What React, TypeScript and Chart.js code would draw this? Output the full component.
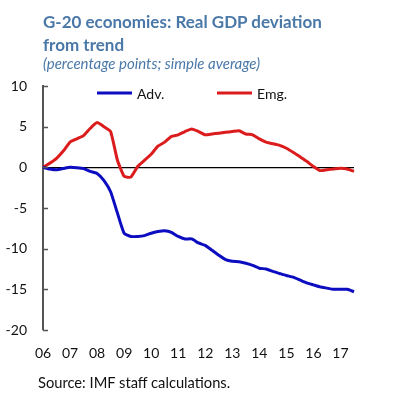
import React, { useEffect, useRef } from "react";
import { Chart, registerables } from "chart.js";

Chart.register(...registerables);

const years = ["06", "07", "08", "09", "10", "11", "12", "13", "14", "15", "16", "17"];
const quarterNames = ["Q1", "Q2", "Q3", "Q4"];
const quarters = years.flatMap((y) => quarterNames.map((q) => `${y}${q}`)).slice(0, 47);

const advValues = [
  0, -0.2, -0.3, -0.15, 0, -0.05, -0.15, -0.5, -0.75, -1.6, -3.0, -5.6,
  -8.1, -8.5, -8.5, -8.4, -8.1, -7.9, -7.8, -8.0, -8.5, -8.8, -8.8, -9.3,
  -9.6, -10.2, -10.8, -11.35, -11.55, -11.6, -11.8, -12.05, -12.4, -12.5, -12.8, -13.05,
  -13.3, -13.5, -13.85, -14.2, -14.45, -14.7, -14.85, -15.0, -15.0, -15.0, -15.3,
];

const emgValues = [
  0, 0.5, 1.1, 2.0, 3.1, 3.5, 3.9, 4.8, 5.5, 5.0, 4.4, 0.9,
  -1.1, -1.2, 0.1, 0.85, 1.6, 2.6, 3.1, 3.8, 4.0, 4.4, 4.7, 4.4,
  4.0, 4.1, 4.2, 4.3, 4.4, 4.5, 4.1, 4.0, 3.5, 3.1, 2.9, 2.7,
  2.35, 1.85, 1.3, 0.75, 0.1, -0.4, -0.3, -0.2, -0.1, -0.2, -0.5,
];

const yTicks = [10, 5, 0, -5, -10, -15, -20];

const seriesNames = ["Adv.", "Emg."];
const seriesColors = ["#0c0cc0", "#dc1c1c"];

const TICK_FONT = "Lato, 'Open Sans', sans-serif";

const insideTicks = {
  id: "insideTicks",
  afterDraw(chart: any) {
    const ctx = chart.ctx;
    const y = chart.scales.y;
    const left = chart.chartArea.left;
    ctx.save();
    ctx.strokeStyle = "#555";
    ctx.lineWidth = 1.5;
    yTicks.forEach((v) => {
      const py = Math.round(y.getPixelForValue(v)) + 0.5;
      ctx.beginPath();
      ctx.moveTo(left, py);
      ctx.lineTo(left + 5, py);
      ctx.stroke();
    });
    ctx.restore();
  },
};

const innerLegend = {
  id: "innerLegend",
  afterDraw(chart: any) {
    const ctx = chart.ctx;
    const { left, top } = chart.chartArea;
    const spots = [54, 174];
    ctx.save();
    ctx.font = `14px ${TICK_FONT}`;
    ctx.textBaseline = "middle";
    chart.data.datasets.forEach((ds: any, i: number) => {
      const x0 = left + spots[i];
      const yy = top + 7;
      ctx.strokeStyle = ds.borderColor;
      ctx.lineWidth = 3;
      ctx.beginPath();
      ctx.moveTo(x0, yy);
      ctx.lineTo(x0 + 35, yy);
      ctx.stroke();
      ctx.fillStyle = "#111";
      ctx.fillText(ds.label, x0 + 40, yy + 1);
    });
    ctx.restore();
  },
};

function ChartCanvas() {
  const ref = useRef<HTMLCanvasElement | null>(null);
  useEffect(() => {
    if (!ref.current) return;
    const chart = new Chart(ref.current, {
      type: "line",
      data: {
        labels: quarters,
        datasets: [
          {
            label: seriesNames[0],
            data: advValues,
            borderColor: seriesColors[0],
            backgroundColor: seriesColors[0],
            borderWidth: 3,
            pointRadius: 0,
            tension: 0.15,
            borderJoinStyle: "round",
          },
          {
            label: seriesNames[1],
            data: emgValues,
            borderColor: seriesColors[1],
            backgroundColor: seriesColors[1],
            borderWidth: 3,
            pointRadius: 0,
            tension: 0.15,
            borderJoinStyle: "round",
          },
        ],
      },
      options: {
        responsive: false,
        animation: false,
        layout: { padding: { left: 0, right: 45, top: 86, bottom: 0 } },
        plugins: {
          legend: { display: false },
          tooltip: { enabled: false },
          title: { display: false },
        },
        scales: {
          x: {
            type: "category",
            offset: false,
            grid: { display: false, drawTicks: false },
            border: { display: false },
            ticks: {
              autoSkip: false,
              maxRotation: 0,
              padding: 15,
              color: "#111",
              font: { family: TICK_FONT, size: 14 },
              callback: (_v: any, i: number) => (i % 4 === 0 ? years[i / 4] : ""),
            },
            afterFit: (scale: any) => {
              scale.height = 75;
            },
          },
          y: {
            min: -20,
            max: 10,
            afterBuildTicks: (scale: any) => {
              scale.ticks = yTicks.map((v) => ({ value: v }));
            },
            grid: {
              drawTicks: false,
              color: (c: any) => (c.tick && c.tick.value === 0 ? "#000" : "rgba(0,0,0,0)"),
              lineWidth: 1.2,
            },
            border: { display: true, color: "#555", width: 2 },
            ticks: {
              padding: 16,
              color: "#111",
              font: { family: TICK_FONT, size: 14 },
            },
            afterFit: (scale: any) => {
              scale.width = 43;
            },
          },
        },
      },
      plugins: [insideTicks, innerLegend],
    });
    return () => chart.destroy();
  }, []);
  return <canvas ref={ref} width={399} height={405} style={{ width: 399, height: 405, display: "block" }} />;
}

export default function App() {
  return (
    <div style={{ position: "fixed", left: 0, top: 0, width: 399, height: 405, background: "#fff", overflow: "hidden" }}>
      <ChartCanvas />
      <div
        style={{
          position: "absolute",
          left: 43,
          top: 10,
          fontFamily: TICK_FONT,
          fontWeight: 700,
          fontSize: 17,
          lineHeight: "23px",
          color: "#4a78a8",
          whiteSpace: "nowrap",
        }}
      >
        G-20 economies: Real GDP deviation
        <br />
        from trend
      </div>
      <div
        style={{
          position: "absolute",
          left: 43,
          top: 54,
          fontFamily: TICK_FONT,
          fontStyle: "italic",
          fontSize: 15,
          lineHeight: "18px",
          color: "#4a78a8",
          whiteSpace: "nowrap",
        }}
      >
        (percentage points; simple average)
      </div>
      <div
        style={{
          position: "absolute",
          left: 38,
          top: 373,
          fontFamily: TICK_FONT,
          fontSize: 14.7,
          lineHeight: "18px",
          color: "#111",
          whiteSpace: "nowrap",
        }}
      >
        Source: IMF staff calculations.
      </div>
    </div>
  );
}
